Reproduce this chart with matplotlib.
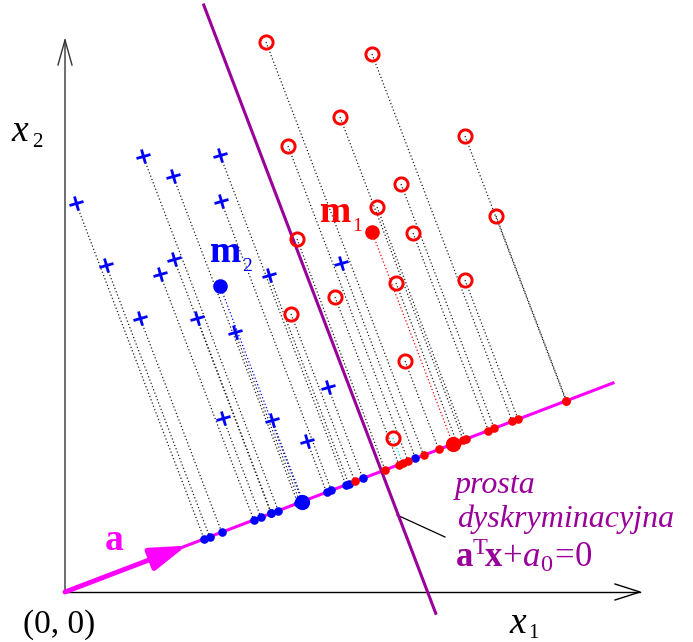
import numpy as np
import matplotlib
matplotlib.use("Agg")
import matplotlib.pyplot as plt
from matplotlib.markers import MarkerStyle
from matplotlib.transforms import Affine2D

plt.rcParams['font.family'] = ['Liberation Serif', 'DejaVu Serif']
plt.rcParams['mathtext.fontset'] = 'custom'
plt.rcParams['mathtext.rm'] = 'Liberation Serif'
plt.rcParams['mathtext.it'] = 'Liberation Serif:italic'
plt.rcParams['mathtext.bf'] = 'Liberation Serif:bold'

# ---- data (class 1: circles, class 2: pluses) ----
class1_x1 = [2.01, 3.07, 2.75, 4.00, 2.23, 3.36, 3.12, 4.31, 3.48, 2.32, 4.00, 3.31, 2.70, 2.26, 3.40, 3.28]
class1_x2 = [5.50, 5.38, 4.75, 4.56, 4.46, 4.08, 3.85, 3.76, 3.59, 3.53, 3.12, 3.09, 2.95, 2.78, 2.31, 1.54]
class2_x1 = [0.11, 0.78, 1.08, 1.55, 1.56, 0.41, 1.09, 0.95, 2.04, 2.76, 0.75, 1.32, 1.70, 1.58, 2.07, 2.42, 2.63]
class2_x2 = [3.89, 4.36, 4.16, 4.37, 3.91, 3.27, 3.33, 3.18, 3.17, 3.29, 2.74, 2.74, 2.60, 1.74, 1.72, 1.51, 2.05]
m1 = [3.07, 3.60]
m2 = [1.55, 3.06]
a_dir = [5.48, 2.09]          # direction of vector a
a0_threshold = 3.388          # position of discriminant line along a
line_len = 5.865              # length of projection line
arrow_len = 1.30              # length of drawn vector a

MAG = '#ff00ff'
PURPLE = '#990099'
RED = '#ff0000'
BLUE = '#0000ff'

u = np.array(a_dir) / np.linalg.norm(a_dir)
v = np.array([-u[1], u[0]])

def proj(x, y):
    t = x * u[0] + y * u[1]
    return t * u[0], t * u[1]

fig = plt.figure(figsize=(6.93, 6.42), dpi=100)
ax = fig.add_axes([0, 0, 1, 1])
ax.set_xlim(-0.65, 6.28)
ax.set_ylim(-0.50, 5.92)
ax.set_aspect('equal')
ax.axis('off')

# axes with open arrowheads
ax.plot([0, 5.75], [0, 0], color='black', lw=1.0, zorder=1)
ax.plot([5.50, 5.75, 5.50], [0.08, 0, -0.08], color='black', lw=1.0, zorder=1)
ax.plot([0, 0], [0, 5.52], color='#555555', lw=1.2, zorder=1)
ax.plot([-0.07, 0, 0.07], [5.27, 5.52, 5.27], color='#333333', lw=1.0, zorder=1)

# dotted projection lines
dot_style = dict(lw=0.9, linestyle=(0, (1, 1.8)), zorder=2)
for i, (x, y) in enumerate(zip(class1_x1, class1_x2)):
    px, py = proj(x, y)
    c = '#00e0e0' if i == len(class1_x1) - 1 else '#222222'
    ax.plot([x, px], [y, py], color=c, **dot_style)
for x, y in zip(class2_x1, class2_x2):
    px, py = proj(x, y)
    ax.plot([x, px], [y, py], color='#222222', **dot_style)
p1 = proj(*m1)
p2 = proj(*m2)
ax.plot([m1[0], p1[0]], [m1[1], p1[1]], color=RED, **dot_style)
ax.plot([m2[0], p2[0]], [m2[1], p2[1]], color=BLUE, **dot_style)

# projection line and vector a
ax.plot([0, line_len * u[0]], [0, line_len * u[1]], color=MAG, lw=2.2, zorder=3)
ax.annotate('', xy=(arrow_len * u[0], arrow_len * u[1]), xytext=(0, 0),
            arrowprops=dict(arrowstyle='-|>,head_length=1.0,head_width=0.32', lw=3.5,
                            color=MAG, shrinkA=0, shrinkB=0, mutation_scale=22),
            zorder=3)

# discriminant line
p0 = a0_threshold * u
s0, s1 = -1.52, 4.99
ax.plot([p0[0] + s0 * v[0], p0[0] + s1 * v[0]],
        [p0[1] + s0 * v[1], p0[1] + s1 * v[1]], color=PURPLE, lw=2.2, zorder=3)

# projected points
for x, y in zip(class2_x1, class2_x2):
    px, py = proj(x, y)
    ax.plot(px, py, 'o', color=BLUE, ms=6.2, mec='none', zorder=5)
for x, y in zip(class1_x1, class1_x2):
    px, py = proj(x, y)
    ax.plot(px, py, 'o', color=RED, ms=6.2, mec='none', zorder=5)
ax.plot(*p1, 'o', color=RED, ms=11, mec='none', zorder=6)
ax.plot(*p2, 'o', color=BLUE, ms=11, mec='none', zorder=6)

# original points
plus = MarkerStyle('+', transform=Affine2D().rotate_deg(15))
ax.plot(class2_x1, class2_x2, linestyle='none', marker=plus, ms=11, mew=2.0,
        color=BLUE, zorder=6)
ax.plot(class1_x1, class1_x2, linestyle='none', marker='o', ms=9.5, mew=2.1,
        mfc='none', mec=RED, zorder=6)
ax.plot(*m1, 'o', color=RED, ms=10.5, mec='none', zorder=6)
ax.plot(*m2, 'o', color=BLUE, ms=10.5, mec='none', zorder=6)

# labels
ax.text(-0.45, 4.60, r'$x$', fontsize=27, ha='center', va='center')
ax.text(-0.33, 4.49, '2', fontsize=15, ha='left', va='center')
ax.text(4.53, -0.32, r'$x$', fontsize=27, ha='center', va='center')
ax.text(4.63, -0.42, '1', fontsize=15, ha='left', va='center')
ax.text(-0.06, -0.33, '(0, 0)', fontsize=24, ha='center', va='center')

ax.text(1.45, 3.30, 'm', fontsize=27, fontweight='bold', color=BLUE,
        ha='left', va='baseline')
ax.text(1.77, 3.21, '2', fontsize=14, color=BLUE, ha='left', va='baseline')
ax.text(2.55, 3.70, 'm', fontsize=27, fontweight='bold', color=RED,
        ha='left', va='baseline')
ax.text(2.87, 3.61, '1', fontsize=14, color=RED, ha='left', va='baseline')

ax.text(0.40, 0.42, 'a', fontsize=27, fontweight='bold', color=MAG,
        ha='left', va='baseline')
ax.text(3.90, 0.99, 'prosta', fontsize=23, style='italic', color=PURPLE,
        ha='left', va='baseline')
ax.text(3.92, 0.65, 'dyskryminacyjna', fontsize=23, style='italic', color=PURPLE,
        ha='left', va='baseline')
ax.text(3.90, 0.25, r'$\mathbf{a}^{\mathrm{T}}\!\mathbf{x}\!+\!a_0\!=\!0$', fontsize=25,
        color=PURPLE, ha='left', va='baseline')
ax.plot([3.32, 3.80], [0.77, 0.55], color='black', lw=0.9, zorder=2)

fig.savefig('out.png', dpi=100)
